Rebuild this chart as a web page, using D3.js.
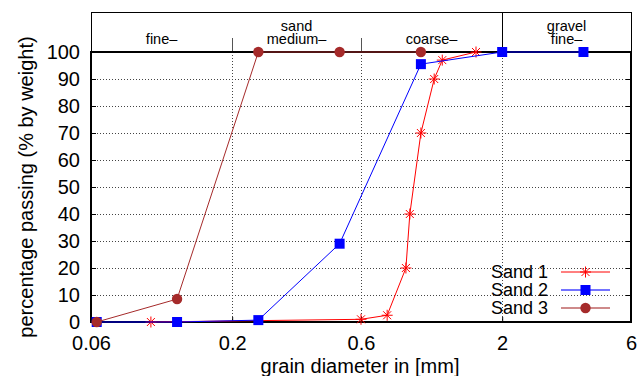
<!DOCTYPE html>
<html lang="en">
<head>
<meta charset="UTF-8">
<title>Grain size distribution</title>
<style>
  html, body { margin: 0; padding: 0; background: #fff; overflow: hidden; }
  svg text { font-family: "Liberation Sans", Arial, sans-serif; fill: #000; }
</style>
</head>
<body>
<svg id="chart" width="639" height="376"></svg>
<script src="https://cdn.jsdelivr.net/npm/d3@7"></script>
<script>
// data
const sand1Size = [0.1, 0.6, 0.75, 0.88, 0.91, 1.0, 1.12, 1.2, 1.6];
const sand1Pass = [0, 1, 2.5, 20, 40, 70, 90, 97, 100];
const sand2Size = [0.063, 0.125, 0.25, 0.5, 1.0, 2.0, 4.0];
const sand2Pass = [0, 0, 0.7, 29, 95.5, 100, 100];
const sand3Size = [0.063, 0.125, 0.25, 0.5, 1.0];
const sand3Pass = [0, 8.5, 100, 100, 100];

const seriesNames = ['Sand 1', 'Sand 2', 'Sand 3'];
const seriesColors = ['#ff0000', '#0000ff', '#a52a2a'];
const seriesMarks = ['star', 'square', 'circle'];

const xTicks = [0.06, 0.2, 0.6, 2, 6];
const xTickLabels = ['0.06', '0.2', '0.6', '2', '6'];
const yTicks = [0, 10, 20, 30, 40, 50, 60, 70, 80, 90, 100];

// grain classes in the band above the plot
const classEdges = [0.06, 0.2, 0.6, 2, 6];
const classLabels = [['fine–'], ['sand', 'medium–'], ['coarse–'], ['gravel', 'fine–']];

const series = [
  sand1Size.map((d, i) => ({ x: d, y: sand1Pass[i] })),
  sand2Size.map((d, i) => ({ x: d, y: sand2Pass[i] })),
  sand3Size.map((d, i) => ({ x: d, y: sand3Pass[i] }))
];

const pL = 91, pR = 631, pT = 52, pB = 322, bandTop = 12;

const svg = d3.select('#chart');

const x = d3.scaleLog().domain([0.06, 6]).range([pL, pR]);
const y = d3.scaleLinear().domain([0, 100]).range([pB, pT]);

// grid
const grid = svg.append('g')
  .attr('stroke', '#444')
  .attr('stroke-width', 1)
  .attr('stroke-dasharray', '1,2');
grid.selectAll('line.h')
  .data(yTicks.slice(1, -1))
  .enter().append('line')
  .attr('x1', pL).attr('x2', pR)
  .attr('y1', d => Math.round(y(d)) + 0.5).attr('y2', d => Math.round(y(d)) + 0.5);
grid.selectAll('line.v')
  .data(xTicks.slice(1, -1))
  .enter().append('line')
  .attr('x1', d => Math.round(x(d)) + 0.5).attr('x2', d => Math.round(x(d)) + 0.5)
  .attr('y1', pT).attr('y2', pB);

// band above the plot
const band = svg.append('g');
band.append('rect')
  .attr('x', pL + 0.5).attr('y', bandTop + 0.5)
  .attr('width', pR - pL).attr('height', pT - bandTop)
  .attr('fill', 'none').attr('stroke', '#000').attr('stroke-width', 1);
band.selectAll('line')
  .data(classEdges.slice(1, -1))
  .enter().append('line')
  .attr('x1', d => Math.round(x(d)) + 0.5).attr('x2', d => Math.round(x(d)) + 0.5)
  .attr('y1', d => d === 2 ? bandTop : 38).attr('y2', pT)
  .attr('stroke', d => d === 2 ? '#000' : '#555')
  .attr('stroke-width', 1);
const labelG = band.selectAll('text')
  .data(classLabels)
  .enter().append('text')
  .attr('text-anchor', 'middle')
  .attr('font-size', 14.5)
  .attr('x', (d, i) => x(Math.sqrt(classEdges[i] * classEdges[i + 1])))
  .attr('y', d => d.length === 2 ? 30.5 : 44);
labelG.selectAll('tspan')
  .data(d => d)
  .enter().append('tspan')
  .attr('x', function() { return this.parentNode.getAttribute('x'); })
  .attr('dy', (d, i) => i === 0 ? 0 : 13.5)
  .text(d => d);

// axes
const xAxis = d3.axisBottom(x)
  .tickValues(xTicks)
  .tickFormat((d, i) => xTickLabels[i])
  .tickSizeInner(-5).tickSizeOuter(0).tickPadding(10);
const gx = svg.append('g')
  .attr('transform', `translate(0,${pB})`)
  .call(xAxis);
gx.select('.domain').remove();
gx.selectAll('text').attr('font-size', 20).attr('font-family', '"Liberation Sans", Arial, sans-serif').attr('dy', '0.9em');

const yAxis = d3.axisLeft(y)
  .tickValues(yTicks)
  .tickSizeInner(-5).tickSizeOuter(0).tickPadding(11);
const gy = svg.append('g')
  .attr('transform', `translate(${pL},0)`)
  .call(yAxis);
gy.select('.domain').remove();
gy.selectAll('text').attr('font-size', 20).attr('font-family', '"Liberation Sans", Arial, sans-serif');

const yAxisR = d3.axisRight(y)
  .tickValues(yTicks)
  .tickSizeInner(-5).tickSizeOuter(0).tickFormat('');
const gyr = svg.append('g')
  .attr('transform', `translate(${pR},0)`)
  .call(yAxisR);
gyr.select('.domain').remove();

// frame
svg.append('rect')
  .attr('x', pL).attr('y', pT)
  .attr('width', pR - pL).attr('height', pB - pT)
  .attr('fill', 'none').attr('stroke', '#000').attr('stroke-width', 2);

// axis titles
svg.append('text')
  .attr('x', (pL + pR) / 2 - 1).attr('y', 373)
  .attr('text-anchor', 'middle').attr('font-size', 20)
  .text('grain diameter in [mm]');
svg.append('text')
  .attr('transform', `translate(33,${(pT + pB) / 2}) rotate(-90)`)
  .attr('text-anchor', 'middle').attr('font-size', 20)
  .text('percentage passing (% by weight)');

// markers
function drawMark(sel, kind, color) {
  if (kind === 'star') {
    sel.append('path')
      .attr('d', 'M-5.5,0H5.5M0,-5.5V5.5M-4,-4L4,4M-4,4L4,-4')
      .attr('stroke', color).attr('stroke-width', 1).attr('fill', 'none');
  } else if (kind === 'square') {
    sel.append('rect')
      .attr('x', -5).attr('y', -5).attr('width', 10).attr('height', 10)
      .attr('fill', color);
  } else {
    sel.append('circle').attr('r', 5.2).attr('fill', color);
  }
}

const line = d3.line().x(d => x(d.x)).y(d => y(d.y));

series.forEach((pts, k) => {
  const g = svg.append('g');
  g.append('path')
    .datum(pts)
    .attr('d', line)
    .attr('fill', 'none')
    .attr('stroke', seriesColors[k])
    .attr('stroke-width', 1);
  g.selectAll('g')
    .data(pts)
    .enter().append('g')
    .attr('transform', d => `translate(${x(d.x)},${y(d.y)})`)
    .each(function() { drawMark(d3.select(this), seriesMarks[k], seriesColors[k]); });
});

// legend
const legend = svg.append('g');
seriesNames.forEach((name, k) => {
  const ly = 272 + k * 18;
  legend.append('text')
    .attr('x', 548).attr('y', ly + 5.5)
    .attr('text-anchor', 'end').attr('font-size', 18)
    .text(name);
  legend.append('line')
    .attr('x1', 561).attr('x2', 610)
    .attr('y1', ly).attr('y2', ly)
    .attr('stroke', seriesColors[k])
    .attr('stroke-width', k === 0 ? 1 : 2)
    .attr('stroke-opacity', k === 0 ? 1 : 0.55);
  const m = legend.append('g').attr('transform', `translate(585.5,${ly})`);
  drawMark(m, seriesMarks[k], seriesColors[k]);
});
</script>
</body>
</html>
